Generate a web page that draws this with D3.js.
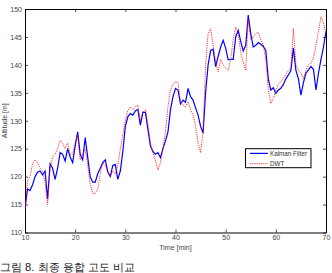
<!DOCTYPE html>
<html>
<head>
<meta charset="utf-8">
<script src="https://cdn.jsdelivr.net/npm/d3@7"></script>
<style>
  body { margin: 0; background: #fff; }
  svg text { font-family: "Liberation Sans", Arial, sans-serif; }
</style>
</head>
<body>
<div id="chart"></div>
<script>
// time axis in minutes, sampled every half minute
const timeMin = d3.range(10, 70.01, 0.5);

const kalmanAlt = [
  114.3, 117.8, 117.5, 118.5, 120.0, 120.8, 121.0, 120.3, 121.0, 116.0,
  122.3, 121.5, 119.5, 121.5, 124.3, 124.0, 122.8, 125.0, 123.5, 122.5,
  125.5, 128.0, 124.0, 123.0, 127.0, 123.5, 120.0, 119.0, 119.0, 120.5,
  121.5, 122.5, 123.0, 120.8, 120.0, 122.0, 122.2, 119.5, 121.0, 124.5,
  129.0, 130.7, 131.3, 131.0, 131.8, 132.0, 129.2, 131.5, 131.5, 128.5,
  125.5, 124.5, 124.0, 124.3, 123.4, 125.0, 126.4, 128.0, 132.0, 134.3,
  135.8, 135.5, 133.0, 133.7, 133.3, 135.8, 134.3, 133.7, 132.3, 131.0,
  129.0, 127.8, 135.0, 140.0, 142.6, 142.8, 139.7, 141.5, 143.2, 144.4,
  143.0, 140.9, 141.0, 141.0, 145.0, 146.2, 144.2, 142.5, 143.5, 148.9,
  145.6, 143.2, 143.5, 144.0, 143.7, 143.3, 142.6, 137.5, 135.5, 135.9,
  134.9, 135.5, 135.8, 136.5, 137.5, 138.2, 139.0, 143.0, 139.0, 137.5,
  134.6, 136.8, 138.5, 139.1, 139.7, 139.2, 135.5, 138.5, 141.0, 143.2,
  146.0
];

const dwtAlt = [
  114.0, 119.3, 120.0, 122.3, 123.0, 122.5, 121.5, 121.0, 119.0, 115.0,
  121.5, 123.5, 124.0, 125.0, 126.5, 126.0, 125.0, 126.0, 124.0, 124.0,
  126.0, 127.5, 123.0, 124.0, 125.0, 122.0, 118.5, 117.0, 117.0, 117.8,
  120.5, 122.5, 122.0, 121.0, 120.0, 121.0, 120.5, 122.0, 125.0, 127.5,
  130.0, 131.8, 132.5, 132.0, 132.5, 132.8, 130.0, 131.5, 132.0, 129.5,
  126.0, 124.3, 122.8, 121.2, 122.5, 125.0, 128.0, 132.5, 135.5, 136.6,
  137.0, 136.8, 133.5, 132.8, 132.5, 133.4, 132.0, 131.0, 129.0, 126.0,
  124.3, 128.0, 140.0, 145.6, 146.5, 143.5, 140.5, 138.8, 141.0, 140.0,
  139.5, 139.0, 141.0, 144.5, 146.8, 145.6, 142.3, 140.5, 139.0, 148.3,
  144.5, 145.0, 145.6, 145.8, 144.5, 143.5, 141.0, 135.5, 133.1, 134.0,
  135.5, 136.5, 137.0, 137.6, 138.3, 139.0, 139.5, 146.5, 140.0, 139.0,
  138.5, 137.5, 139.0, 140.0, 140.3, 141.2, 143.5, 146.0, 148.6, 147.5,
  145.5
];

const xTicks = [10, 20, 30, 40, 50, 60, 70];
const yTicks = [110, 115, 120, 125, 130, 135, 140, 145, 150];
const seriesNames = ["Kalman Filter", "DWT"];
const caption = "그림 8. 최종 융합 고도 비교";

const width = 332, height = 273;
const margin = { top: 9, right: 6, bottom: 40.5, left: 25 };
const innerW = width - margin.left - margin.right;
const innerH = height - margin.top - margin.bottom;

const svg = d3.select("#chart").append("svg")
    .attr("width", width)
    .attr("height", height);

const x = d3.scaleLinear().domain([10, 70]).range([0, innerW]);
const y = d3.scaleLinear().domain([110, 150]).range([innerH, 0]);

const g = svg.append("g")
    .attr("transform", "translate(" + margin.left + "," + margin.top + ")");

g.append("clipPath").attr("id", "clip")
  .append("rect").attr("width", innerW).attr("height", innerH);

// axes, ticks pointing inward like matlab
const axisStyle = sel => {
    sel.selectAll(".domain").attr("stroke", "#000").attr("stroke-width", 1);
    sel.selectAll(".tick line").attr("stroke", "#000").attr("stroke-width", 0.7);
    sel.selectAll("text").attr("fill", "#444").attr("font-size", 7);
};

g.append("g")
    .attr("transform", "translate(0," + innerH + ")")
    .call(d3.axisBottom(x).tickValues(xTicks).tickSize(-3).tickSizeOuter(0).tickPadding(3))
    .call(axisStyle);
g.append("g")
    .call(d3.axisTop(x).tickValues(xTicks).tickSize(-3).tickSizeOuter(0).tickFormat(""))
    .call(axisStyle);
g.append("g")
    .call(d3.axisLeft(y).tickValues(yTicks).tickSize(-3).tickSizeOuter(0).tickPadding(3))
    .call(axisStyle);
g.append("g")
    .attr("transform", "translate(" + innerW + ",0)")
    .call(d3.axisRight(y).tickValues(yTicks).tickSize(-3).tickSizeOuter(0).tickFormat(""))
    .call(axisStyle);

const line = d3.line().x((d, i) => x(timeMin[i])).y(d => y(d));

const plot = g.append("g").attr("clip-path", "url(#clip)");
plot.append("path")
    .datum(kalmanAlt)
    .attr("fill", "none")
    .attr("stroke", "#0000ff")
    .attr("stroke-width", 1.2)
    .attr("d", line);
plot.append("path")
    .datum(dwtAlt)
    .attr("fill", "none")
    .attr("stroke", "#ff0000")
    .attr("stroke-width", 0.8)
    .attr("stroke-dasharray", "1.2,1")
    .attr("d", line);

// axis labels
g.append("text")
    .attr("x", innerW / 2)
    .attr("y", innerH + 17)
    .attr("text-anchor", "middle")
    .attr("font-size", 7)
    .attr("fill", "#444")
    .text("Time [min]");
svg.append("text")
    .attr("transform", "translate(7," + (margin.top + innerH / 2) + ") rotate(-90)")
    .attr("text-anchor", "middle")
    .attr("font-size", 7)
    .attr("fill", "#444")
    .text("Altitude [m]");

// legend
const legend = g.append("g").attr("transform", "translate(" + x(53.95) + "," + y(125) + ")");
legend.append("rect")
    .attr("width", 65.5).attr("height", 19)
    .attr("fill", "#fff").attr("stroke", "#000").attr("stroke-width", 1);
const legendStyles = [
    { stroke: "#0000ff", w: 1.2, dash: null },
    { stroke: "#ff0000", w: 0.8, dash: "1.2,1" }
];
seriesNames.forEach((name, i) => {
    const ly = 4.7 + i * 10.3;
    legend.append("line")
        .attr("x1", 4.5).attr("x2", 22.5).attr("y1", ly).attr("y2", ly)
        .attr("stroke", legendStyles[i].stroke)
        .attr("stroke-width", legendStyles[i].w)
        .attr("stroke-dasharray", legendStyles[i].dash);
    legend.append("text")
        .attr("x", 24.5).attr("y", ly + 2.3)
        .attr("font-size", 6.3).attr("fill", "#333")
        .text(name);
});

// caption below the figure
svg.append("text")
    .attr("x", 0).attr("y", 271.3)
    .attr("font-family", "'Noto Sans CJK KR', sans-serif")
    .attr("font-size", 11.2)
    .attr("fill", "#222")
    .text(caption);
</script>
</body>
</html>
